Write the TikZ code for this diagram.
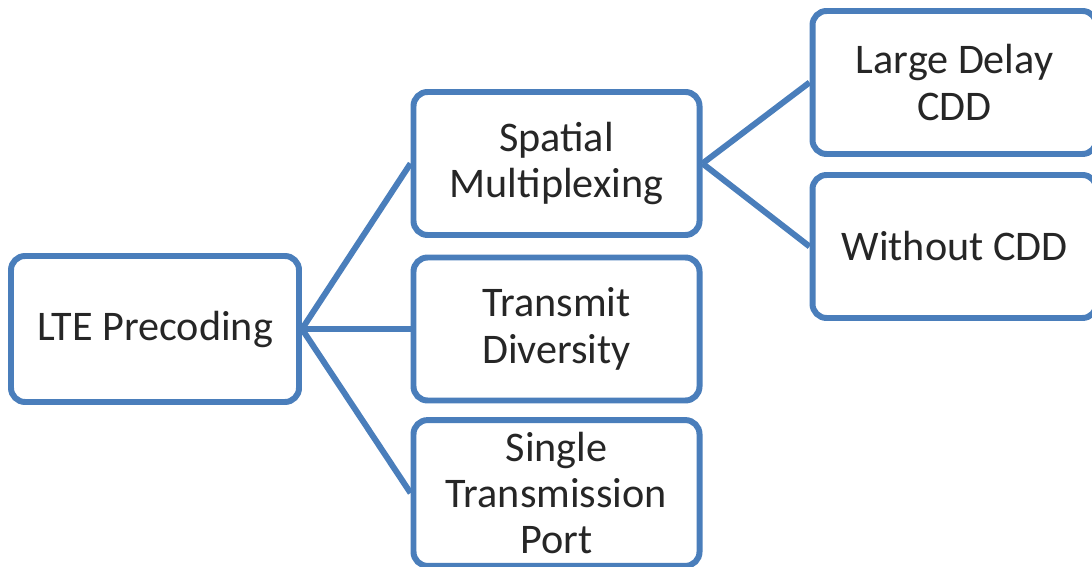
\documentclass[tikz,border=0pt]{standalone}
\usepackage{fontspec}
\setmainfont{Carlito}
\usepackage{tikz}
\usetikzlibrary{positioning}
\definecolor{lteblue}{HTML}{4A7EBB}
\definecolor{ltetext}{HTML}{262626}

\begin{document}
\begin{tikzpicture}[
  mode/.style={
    draw=lteblue, fill=white, line width=1.7pt, rounded corners=4pt,
    minimum width=2.86cm, minimum height=1.43cm, align=center,
    text=ltetext, font=\fontsize{12}{13.2}\selectfont
  },
  link/.style={draw=lteblue, line width=1.7pt},
]
\useasboundingbox (0,0) rectangle (10.92,5.66);
\clip (0,0) rectangle (10.92,5.66);

% Root
\node[mode, minimum width=2.88cm, minimum height=1.46cm] (lte) at (1.55, 2.37) {LTE Precoding};

% Precoding modes
\node[mode] (spatial)  at (5.565, 4.025) {Spatial\\Multiplexing};
\node[mode] (transmit) at (5.565, 2.37) {Transmit\\Diversity};
\node[mode, minimum height=1.45cm] (single) at (5.565, 0.73) {Single\\Transmission\\Port};

% Spatial multiplexing variants
\node[mode, minimum width=2.84cm] (large)   at (9.545, 4.835) {Large Delay\\CDD};
\node[mode, minimum width=2.84cm] (without) at (9.545, 3.195) {Without CDD};

% Connectors
\draw[link] (lte.east) -- (spatial.west);
\draw[link] (lte.east) -- (transmit.west);
\draw[link] (lte.east) -- (single.west);
\draw[link] (spatial.east) -- (large.west);
\draw[link] (spatial.east) -- (without.west);

\end{tikzpicture}
\end{document}
